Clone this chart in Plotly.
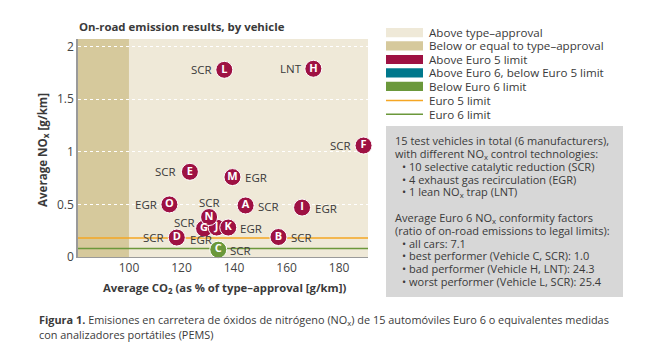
import plotly.graph_objects as go

# ---------------- data ----------------
vehicles = ["A", "B", "C", "D", "E", "F", "G", "H", "I", "J", "K", "L", "M", "N", "O"]
co2_pct = [144.4, 156.9, 134.0, 118.2, 123.2, 189.3, 128.6, 170.2, 165.9, 133.4, 137.8, 136.3, 139.4, 130.5, 115.4]
nox = [0.49, 0.19, 0.07, 0.185, 0.81, 1.06, 0.27, 1.79, 0.47, 0.28, 0.28, 1.78, 0.76, 0.38, 0.50]
tech = ["SCR", "SCR", "SCR", "SCR", "SCR", "SCR", "SCR", "LNT", "EGR", "EGR", "EGR", "SCR", "EGR", "SCR", "EGR"]
EURO5 = 0.18
EURO6 = 0.08
TYPE_APPROVAL = 100
y_ticks = [0, 0.5, 1, 1.5, 2]
y_tick_labels = ["0", "0.5", "1", "1.5", "2"]
x_ticks = [100, 120, 140, 160, 180]

legend_items = ["Above type\u2013approval", "Below or equal to type\u2013approval",
                "Above Euro 5 limit", "Above Euro 6, below Euro 5 limit",
                "Below Euro 6 limit", "Euro 5 limit", "Euro 6 limit"]
box_lines = [
    "15 test vehicles in total (6 manufacturers),",
    "with different NO<sub>x</sub> control technologies:",
    "  \u2022 10 selective catalytic reduction (SCR)",
    "  \u2022 4 exhaust gas recirculation (EGR)",
    "  \u2022 1 lean NO<sub>x</sub> trap (LNT)",
    "",
    "Average Euro 6 NO<sub>x</sub> conformity factors",
    "(ratio of on-road emissions to legal limits):",
    "  \u2022 all cars: 7.1",
    "  \u2022 best performer (Vehicle C, SCR): 1.0",
    "  \u2022 bad performer (Vehicle H, LNT): 24.3",
    "  \u2022 worst performer (Vehicle L, SCR): 25.4",
]

# ---------------- styles ----------------
C_ABOVE_TA = "#EFE9D8"
C_BELOW_TA = "#D6C99C"
C_RED = "#9E1143"
C_TEAL = "#00788C"
C_GREEN = "#6B983B"
C_ORANGE = "#F5A623"
C_LINE6 = "#6B983B"
TXT = "#3a3a3a"
FONT = "Open Sans"

# pixel offsets of technology labels relative to marker centre
label_offsets = {
    "A": (23, -1), "B": (23, -0.5), "C": (22, -1), "D": (-23, 0), "E": (-24, 0.5),
    "F": (-23, 0), "G": (-20, 6), "H": (-22, 0), "I": (24, -0.5), "J": (-16, -12),
    "K": (23, -0.5), "L": (-23, 0), "M": (24, -0.7), "N": (0, 15), "O": (-23, 0),
}

W, H = 650, 361
ML, MR, MT, MB = 78, 282, 39, 104
PW, PH = W - ML - MR, H - MT - MB
XR = [80.6, 191.0]
YR = [0, 2.073]


def px(x):
    return (x - ML) / PW


def py(y):
    return (H - MB - y) / PH


def color_for(v):
    if v > EURO5:
        return C_RED
    if v > EURO6:
        return C_TEAL
    return C_GREEN


fig = go.Figure()

# limit lines
fig.add_trace(go.Scatter(x=XR, y=[EURO5, EURO5], mode="lines",
                         line=dict(color=C_ORANGE, width=1.5), hoverinfo="skip", showlegend=False))
fig.add_trace(go.Scatter(x=XR, y=[EURO6, EURO6], mode="lines",
                         line=dict(color=C_LINE6, width=1.5), hoverinfo="skip", showlegend=False))

# vehicles
fig.add_trace(go.Scatter(
    x=co2_pct, y=nox, mode="markers+text", text=vehicles, textposition="middle center",
    textfont=dict(family=FONT, size=11, color="white", weight="bold"),
    marker=dict(size=17, color=[color_for(v) for v in nox], line=dict(color="white", width=1)),
    showlegend=False, cliponaxis=False,
))

shapes = [
    dict(type="rect", xref="x", yref="paper", x0=XR[0], x1=TYPE_APPROVAL, y0=0, y1=1,
         fillcolor=C_BELOW_TA, line=dict(width=0), layer="below"),
]

annotations = []
for v, x, y, t in zip(vehicles, co2_pct, nox, tech):
    dx, dy = label_offsets[v]
    annotations.append(dict(x=x, y=y, xref="x", yref="y", text=t, showarrow=False,
                            xshift=dx, yshift=dy, xanchor="center", yanchor="middle",
                            font=dict(family=FONT, size=11.5, color=TXT)))

# legend (manual)
legend_y = [32.7, 45.9, 59.5, 72.9, 86.3, 100.5, 114.2]
legend_fill = [C_ABOVE_TA, C_BELOW_TA, C_RED, C_TEAL, C_GREEN, None, None]
legend_line = [None, None, None, None, None, C_ORANGE, C_LINE6]
for name, cy, fc, lc in zip(legend_items, legend_y, legend_fill, legend_line):
    if fc:
        shapes.append(dict(type="rect", xref="paper", yref="paper", x0=px(386), x1=px(423),
                           y0=py(cy + 4.6), y1=py(cy - 4.6), fillcolor=fc, line=dict(width=0)))
    else:
        shapes.append(dict(type="line", xref="paper", yref="paper", x0=px(386), x1=px(423),
                           y0=py(cy), y1=py(cy), line=dict(color=lc, width=1.5)))
    annotations.append(dict(x=px(427), y=py(cy), xref="paper", yref="paper", text=name,
                            showarrow=False, xanchor="left", yanchor="middle",
                            font=dict(family=FONT, size=11.6, color=TXT)))

# gray info box
shapes.append(dict(type="rect", xref="paper", yref="paper", x0=px(386), x1=px(623),
                   y0=py(297), y1=py(126), fillcolor="#D7D7D7", line=dict(width=0)))
box_y0 = 140.7
for i, line in enumerate(box_lines):
    if not line:
        continue
    indent = 400 if line.startswith("  ") else 393
    annotations.append(dict(x=px(indent), y=py(box_y0 + i * 12.8), xref="paper", yref="paper",
                            text=line.strip(), showarrow=False, xanchor="left", yanchor="middle",
                            font=dict(family=FONT, size=11, color=TXT)))

# titles
annotations.append(dict(x=px(77), y=py(26.5), xref="paper", yref="paper",
                        text="<b>On-road emission results, by vehicle</b>", showarrow=False,
                        xanchor="left", yanchor="middle", font=dict(family=FONT, size=11.4, color=TXT)))
annotations.append(dict(x=px(43), y=py(150), xref="paper", yref="paper", textangle=-90,
                        text="<b>Average NO<sub>x</sub> [g/km]</b>", showarrow=False,
                        xanchor="center", yanchor="middle", font=dict(family=FONT, size=11.6, color=TXT)))
annotations.append(dict(x=px(224), y=py(288), xref="paper", yref="paper",
                        text="<b>Average CO<sub>2</sub> (as % of type\u2013approval [g/km])</b>",
                        showarrow=False, xanchor="center", yanchor="middle",
                        font=dict(family=FONT, size=11.3, color=TXT)))
# caption
annotations.append(dict(x=px(37), y=py(320), xref="paper", yref="paper",
                        text="<b>Figura 1.</b> Emisiones en carretera de óxidos de nitrógeno (NO<sub>x</sub>) "
                             "de 15 automóviles Euro 6 o equivalentes medidas",
                        showarrow=False, xanchor="left", yanchor="middle",
                        font=dict(family=FONT, size=10.9, color=TXT)))
annotations.append(dict(x=px(37), y=py(334), xref="paper", yref="paper",
                        text="con analizadores portátiles (PEMS)",
                        showarrow=False, xanchor="left", yanchor="middle",
                        font=dict(family=FONT, size=10.9, color=TXT)))

fig.update_layout(
    width=W, height=H, margin=dict(l=ML, r=MR, t=MT, b=MB),
    paper_bgcolor="white", plot_bgcolor=C_ABOVE_TA,
    font=dict(family=FONT, size=12, color=TXT),
    shapes=shapes, annotations=annotations, showlegend=False,
    xaxis=dict(range=XR, tickvals=x_ticks, showgrid=False, zeroline=False,
               showline=True, linecolor="#9a9a9a", linewidth=1, ticks="",
               tickfont=dict(family=FONT, size=12, color="#444")),
    yaxis=dict(range=YR, tickvals=y_ticks, ticktext=y_tick_labels, showgrid=True,
               gridcolor="white", griddash="dot", gridwidth=1, zeroline=False,
               showline=True, linecolor="#9a9a9a", linewidth=1.5, ticks="",
               tickfont=dict(family=FONT, size=12, color="#444")),
)

fig.write_html("out.html", config={"displayModeBar": False},
               post_script="document.body.style.margin='0';document.body.style.overflow='hidden';")
